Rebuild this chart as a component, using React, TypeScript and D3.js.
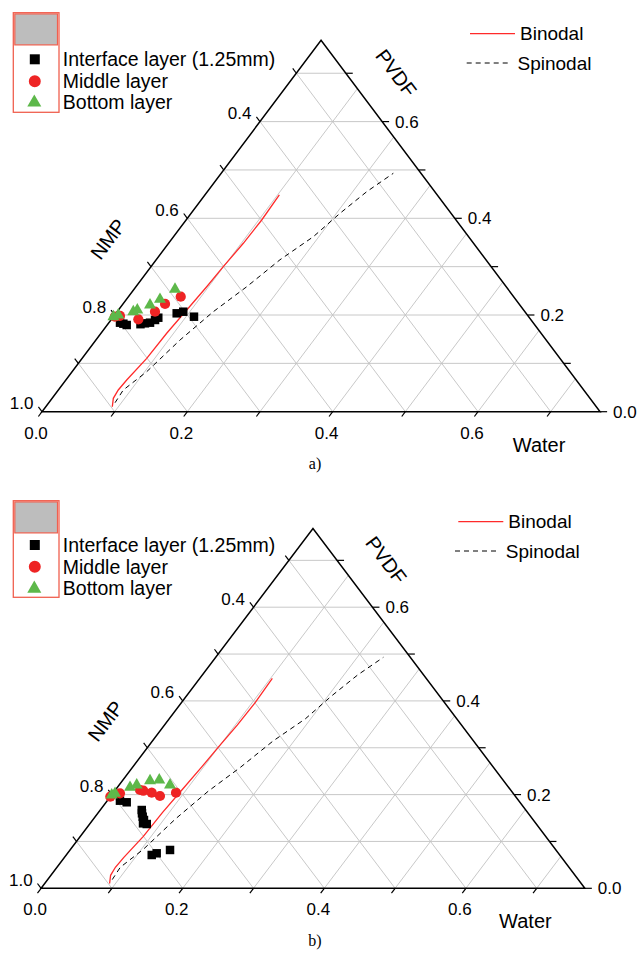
import React from 'react';
import * as d3 from 'd3';

// ---------- data (compositions as [Water, PVDF]; NMP = 1 - Water - PVDF) ----------
const MAXV = 0.768; // visible range of Water / PVDF axes
const gridSteps = [0.1, 0.2, 0.3, 0.4, 0.5, 0.6, 0.7];
const waterTicks = [0, 0.1, 0.2, 0.3, 0.4, 0.5, 0.6, 0.7];
const waterLabels = [0, 0.2, 0.4, 0.6];
const pvdfTicks = [0, 0.1, 0.2, 0.3, 0.4, 0.5, 0.6, 0.7];
const pvdfLabels = [0, 0.2, 0.4, 0.6];
const nmpTicks = [1.0, 0.9, 0.8, 0.7, 0.6, 0.5, 0.4, 0.3];
const nmpLabels = [1.0, 0.8, 0.6, 0.4];

const binodal: [number, number][] = [
  [0.0916, 0.0103], [0.0843, 0.0277], [0.0825, 0.0449], [0.0838, 0.0655],
  [0.0889, 0.1104], [0.0905, 0.1622], [0.094, 0.2103], [0.0974, 0.2585],
  [0.0995, 0.2999], [0.1029, 0.3483], [0.1041, 0.3965], [0.1025, 0.4482],
];
const spinodal: [number, number][] = [
  [0.0912, 0.0186], [0.0894, 0.0449], [0.1027, 0.0827], [0.1158, 0.1483],
  [0.1323, 0.2068], [0.1525, 0.2585], [0.1704, 0.3143], [0.1924, 0.3619],
  [0.2049, 0.4103], [0.2193, 0.455], [0.2369, 0.4931],
];

const aInterface: [number, number][] = [
  [0.0153, 0.1841], [0.021, 0.182], [0.0269, 0.1793], [0.045, 0.181], [0.0503, 0.1828],
  [0.0566, 0.1841], [0.0607, 0.1897], [0.0628, 0.1944], [0.0836, 0.2035],
  [0.091, 0.2068], [0.1109, 0.1965],
];
const aMiddle: [number, number][] = [
  [0.002, 0.1965], [0.0083, 0.198], [0.037, 0.1911], [0.0521, 0.2068],
  [0.0579, 0.2228], [0.072, 0.2378],
];
const aBottom: [number, number][] = [
  [0.0, 0.1965], [0.005, 0.2], [0.0222, 0.2068], [0.026, 0.2103],
  [0.0383, 0.2207], [0.0461, 0.2325], [0.0564, 0.2532],
];

const bInterface: [number, number][] = [
  [0.0179, 0.187], [0.0291, 0.1836], [0.0586, 0.1671], [0.0625, 0.16],
  [0.0671, 0.1528], [0.0724, 0.1458], [0.0746, 0.1387], [0.0806, 0.1372],
  [0.1207, 0.0711], [0.1259, 0.0747], [0.1412, 0.0818],
];
const bMiddle: [number, number][] = [
  [0.0, 0.1955], [0.01, 0.2028], [0.0348, 0.2098], [0.0402, 0.2083],
  [0.0542, 0.2041], [0.0694, 0.197], [0.0885, 0.2041],
];
const bBottom: [number, number][] = [
  [0.0002, 0.1991], [0.003, 0.2028], [0.0178, 0.2156], [0.0248, 0.2205],
  [0.039, 0.2297], [0.0513, 0.2312], [0.0718, 0.2205],
];

const seriesNames = ['Interface layer (1.25mm)', 'Middle layer', 'Bottom layer'];
const lineNames = ['Binodal', 'Spinodal'];

// ---------- styles ----------
const FONT = "'Liberation Sans', Arial, Helvetica, sans-serif";
const RED = '#ee2424';
const GREEN = '#5db84a';
const LEG_RED = '#f0604f';

type Cfg = {
  x0: number; y0: number; W: number; H: number;
  box: [number, number, number, number];
  rows: number[];
  lineLeg: [number, number];
  caption: string; capY: number;
};

const panelA: Cfg = {
  x0: 42, y0: 411.7, W: 726.7, H: 483.5,
  box: [13.3, 12.7, 45.7, 99.6], rows: [59.3, 81.2, 101.5],
  lineLeg: [470, 33.7], caption: 'a)', capY: 469,
};
const panelB: Cfg = {
  x0: 41.1, y0: 888.3, W: 708, H: 468.5,
  box: [13.3, 500.7, 45.7, 96.6], rows: [545, 566.7, 587.7],
  lineLeg: [458.3, 521.7], caption: 'b)', capY: 946,
};

function Panel({ cfg, sq, ci, tr }: { cfg: Cfg; sq: [number, number][]; ci: [number, number][]; tr: [number, number][] }) {
  const xs = d3.scaleLinear().domain([0, 1]).range([cfg.x0, cfg.x0 + cfg.W]);
  const ys = d3.scaleLinear().domain([0, 1]).range([cfg.y0, cfg.y0 - cfg.H]);
  const pt = (w: number, p: number): [number, number] => [xs(w + p / 2), ys(p)];

  const vBL = pt(0, 0), vBR = pt(MAXV, 0), vT = pt(0, MAXV);
  const norm = (a: [number, number], b: [number, number]) => {
    const dx = b[0] - a[0], dy = b[1] - a[1];
    const l = Math.hypot(dx, dy);
    return [dx / l, dy / l];
  };
  const dBottom = norm(vT, vBL); // down-left
  const dLeft = norm(vBR, vT); // up-left
  const angle = (Math.atan2(vBL[1] - vT[1], vT[0] - vBL[0]) * 180) / Math.PI;

  const line = d3.line<[number, number]>().x((d) => pt(d[0], d[1])[0]).y((d) => pt(d[0], d[1])[1]);
  const sqPath = d3.symbol().type(d3.symbolSquare).size(72)()!;
  const ciPath = d3.symbol().type(d3.symbolCircle).size(82)()!;
  const trPath = d3.symbol().type(d3.symbolTriangle).size(62)()!;
  const sqLeg = d3.symbol().type(d3.symbolSquare).size(100)()!;
  const ciLeg = d3.symbol().type(d3.symbolCircle).size(113)()!;
  const trLeg = d3.symbol().type(d3.symbolTriangle).size(85)()!;

  const grid: [[number, number], [number, number]][] = [];
  gridSteps.forEach((s) => {
    grid.push([pt(0, s), pt(MAXV - s, s)]);
    grid.push([pt(s, 0), pt(s, MAXV - s)]);
    grid.push([pt(0, s), pt(s, 0)]);
  });

  const [bx, by, bw, bh] = cfg.box;
  const [lx, ly] = cfg.lineLeg;
  const nmpPos = pt(-0.0874, 0.357);
  const pvdfPos = pt(0.137, 0.7005);

  return (
    <g>
      {grid.map((g, i) => (
        <line key={'g' + i} x1={g[0][0]} y1={g[0][1]} x2={g[1][0]} y2={g[1][1]} stroke="#c2c2c2" strokeWidth={0.9} />
      ))}
      <path d={`M${vBL[0]},${vBL[1]}L${vBR[0]},${vBR[1]}L${vT[0]},${vT[1]}Z`} fill="none" stroke="#000" strokeWidth={1.5} strokeLinejoin="miter" />
      {/* bottom ticks */}
      {waterTicks.map((w) => {
        const a = pt(w, 0);
        return <line key={'bt' + w} x1={a[0]} y1={a[1]} x2={a[0] + dBottom[0] * 6} y2={a[1] + dBottom[1] * 6} stroke="#000" strokeWidth={1.2} />;
      })}
      {waterLabels.map((w) => {
        const a = pt(w, 0);
        return <text key={'bl' + w} x={a[0] - 6} y={cfg.y0 + 27} textAnchor="middle" fontSize={17} fontFamily={FONT}>{w.toFixed(1)}</text>;
      })}
      {/* right ticks */}
      {pvdfTicks.map((p) => {
        const a = pt(MAXV - p, p);
        return <line key={'rt' + p} x1={a[0]} y1={a[1]} x2={a[0] + 7} y2={a[1]} stroke="#000" strokeWidth={1.2} />;
      })}
      {pvdfLabels.map((p) => {
        const a = pt(MAXV - p, p);
        return <text key={'rl' + p} x={a[0] + 13} y={a[1] + 6} textAnchor="start" fontSize={17} fontFamily={FONT}>{p.toFixed(1)}</text>;
      })}
      {/* left ticks */}
      {nmpTicks.map((n) => {
        const a = pt(0, 1 - n);
        return <line key={'lt' + n} x1={a[0]} y1={a[1]} x2={a[0] + dLeft[0] * 6} y2={a[1] + dLeft[1] * 6} stroke="#000" strokeWidth={1.2} />;
      })}
      {nmpLabels.map((n) => {
        const a = pt(0, 1 - n);
        return <text key={'ll' + n} x={a[0] - 8.5} y={a[1] - 2.5} textAnchor="end" fontSize={17} fontFamily={FONT}>{n.toFixed(1)}</text>;
      })}
      {/* axis titles */}
      <text x={nmpPos[0]} y={nmpPos[1]} textAnchor="middle" dominantBaseline="central" fontSize={20} fontFamily={FONT} transform={`rotate(${-angle},${nmpPos[0]},${nmpPos[1]})`}>NMP</text>
      <text x={pvdfPos[0]} y={pvdfPos[1]} textAnchor="middle" dominantBaseline="central" fontSize={20} fontFamily={FONT} transform={`rotate(${angle},${pvdfPos[0]},${pvdfPos[1]})`}>PVDF</text>
      <text x={xs(0.684)} y={cfg.y0 + 0.069 * cfg.H} textAnchor="middle" dominantBaseline="central" fontSize={20} fontFamily={FONT}>Water</text>
      {/* curves */}
      <path d={line(binodal)!} fill="none" stroke="#ff2a2a" strokeWidth={1.3} />
      <path d={line(spinodal)!} fill="none" stroke="#000" strokeWidth={1} strokeDasharray="5,4" />
      {/* markers */}
      {sq.map((d, i) => {
        const a = pt(d[0], d[1]);
        return <path key={'s' + i} d={sqPath} transform={`translate(${a[0]},${a[1]})`} fill="#000" />;
      })}
      {ci.map((d, i) => {
        const a = pt(d[0], d[1]);
        return <path key={'c' + i} d={ciPath} transform={`translate(${a[0]},${a[1]})`} fill={RED} />;
      })}
      {tr.map((d, i) => {
        const a = pt(d[0], d[1]);
        return <path key={'t' + i} d={trPath} transform={`translate(${a[0]},${a[1]})`} fill={GREEN} />;
      })}
      {/* symbol legend */}
      <rect x={bx} y={by} width={bw} height={bh} fill="#fff" stroke={LEG_RED} strokeWidth={1.3} />
      <rect x={bx + 1.5} y={by + 1.2} width={bw - 3} height={31} fill="#bdbdbd" stroke={LEG_RED} strokeWidth={1.2} />
      <path d={sqLeg} transform={`translate(${bx + 21.5},${cfg.rows[0]})`} fill="#000" />
      <path d={ciLeg} transform={`translate(${bx + 21.5},${cfg.rows[1]})`} fill={RED} />
      <path d={trLeg} transform={`translate(${bx + 21},${cfg.rows[2] + 1})`} fill={GREEN} />
      {seriesNames.map((s, i) => (
        <text key={'ln' + i} x={bx + 49.5} y={cfg.rows[i]} dominantBaseline="central" fontSize={19.5} fontFamily={FONT}>{s}</text>
      ))}
      {/* line legend */}
      <line x1={lx} y1={ly} x2={lx + 45} y2={ly} stroke="#ff2a2a" strokeWidth={1.3} />
      <text x={lx + 50} y={ly} dominantBaseline="central" fontSize={19} fontFamily={FONT}>{lineNames[0]}</text>
      <line x1={lx - 3.3} y1={ly + 29.3} x2={lx + 41.7} y2={ly + 29.3} stroke="#000" strokeWidth={1} strokeDasharray="5,4" />
      <text x={lx + 47.5} y={ly + 29.3} dominantBaseline="central" fontSize={19} fontFamily={FONT}>{lineNames[1]}</text>
      <text x={315} y={cfg.capY} textAnchor="middle" fontSize={16} fontFamily="'Liberation Serif', 'Times New Roman', serif">{cfg.caption}</text>
    </g>
  );
}

export default function App() {
  return (
    <svg width={640} height={953} style={{ position: 'absolute', left: 0, top: 0, background: '#fff' }}>
      <rect x={0} y={0} width={640} height={953} fill="#fff" />
      <Panel cfg={panelA} sq={aInterface} ci={aMiddle} tr={aBottom} />
      <Panel cfg={panelB} sq={bInterface} ci={bMiddle} tr={bBottom} />
    </svg>
  );
}
